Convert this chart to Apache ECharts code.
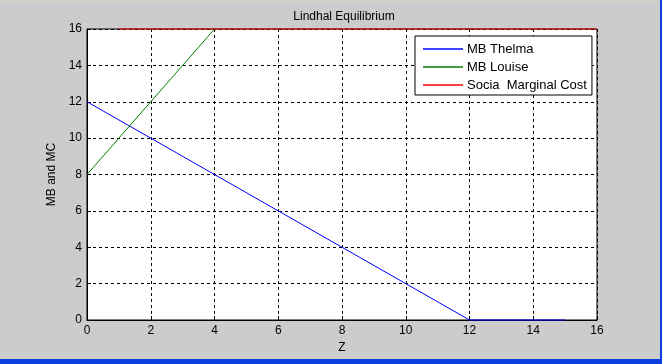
<!DOCTYPE html>
<html><head><meta charset="utf-8">
<script src="https://cdn.jsdelivr.net/npm/echarts@6/dist/echarts.min.js"></script>
<style>html,body{margin:0;padding:0;background:#cccccc;}#c{width:662px;height:364px;}</style>
</head><body><div id="c"></div>
<script>
const xTicks = [0,2,4,6,8,10,12,14,16];
const yTicks = [0,2,4,6,8,10,12,14,16];
const thelmaX = [0, 12, 15];
const thelmaY = [12, 0, 0];
const louiseX = [0, 4];
const louiseY = [8, 16];
const smcX = [1, 16];
const smcY = [16, 16];
const seriesNames = ['MB Thelma', 'MB Louise', 'Socia  Marginal Cost'];

function pairs(xs, ys){ return xs.map((x,i)=>[x, ys[i]]); }
const font = 'Liberation Sans, Arial, sans-serif';
const chart = echarts.init(document.getElementById('c'));
chart.setOption({
  backgroundColor: '#cccccc',
  animation: false,
  title: { text: 'Lindhal Equilibrium', left: 339, textAlign: 'center', top: 6,
    textStyle: { fontFamily: font, fontSize: 12, fontWeight: 'normal', color: '#000' } },
  grid: { left: 87, top: 29, width: 510, height: 291, show: true, backgroundColor: '#fff', borderColor: '#000', borderWidth: 1 },
  legend: {
    orient: 'vertical', left: 415, top: 36,
    width: 178,
    data: seriesNames,
    icon: 'rect', itemWidth: 40, itemHeight: 1.5, itemGap: 4,
    borderColor: '#000', borderWidth: 1, backgroundColor: '#fff',
    padding: [6, 5, 3, 8],
    textStyle: { fontFamily: font, fontSize: 13, lineHeight: 14, color: '#000', padding: [0,0,0,-1] }
  },
  xAxis: {
    type: 'value', min: 0, max: 16, interval: 2,
    name: 'Z', nameLocation: 'middle', nameGap: 20,
    nameTextStyle: { fontFamily: font, fontSize: 12, color: '#000' },
    axisLine: { show: true, lineStyle: { color: '#000' } },
    axisTick: { show: true, inside: true, length: 4, lineStyle: { color: '#000' } },
    axisLabel: { fontFamily: font, fontSize: 12, color: '#000', margin: 5, formatter: v => xTicks.includes(v) ? String(v) : '' },
    splitLine: { show: true, lineStyle: { color: '#000', type: [3, 3], width: 1 } }
  },
  yAxis: {
    type: 'value', min: 0, max: 16, interval: 2,
    name: 'MB and MC', nameLocation: 'middle', nameGap: 15,
    nameTextStyle: { fontFamily: font, fontSize: 12, color: '#000' },
    axisLine: { show: true, lineStyle: { color: '#000' } },
    axisTick: { show: true, inside: true, length: 4, lineStyle: { color: '#000' } },
    axisLabel: { fontFamily: font, fontSize: 12, color: '#000', margin: 5, formatter: v => yTicks.includes(v) ? String(v) : '' },
    splitLine: { show: true, lineStyle: { color: '#000', type: [3, 3], width: 1 } }
  },
  series: [
    { name: seriesNames[0], type: 'line', data: pairs(thelmaX, thelmaY), symbol: 'none', color: '#0000ff', lineStyle: { width: 1, color: '#0000ff' }, clip: false, z: 5 },
    { name: seriesNames[1], type: 'line', data: pairs(louiseX, louiseY), symbol: 'none', color: '#008000', lineStyle: { width: 1, color: '#008000' }, clip: false, z: 5 },
    { name: seriesNames[2], type: 'line', data: pairs(smcX, smcY), symbol: 'none', color: '#ff0000', lineStyle: { width: 1, color: '#ff0000' }, clip: false, z: 6 }
  ],
  graphic: [
    { type: 'rect', shape: { x: 0, y: 0, width: 662, height: 2 }, style: { fill: '#d4d0c8' }, silent: true },
    { type: 'rect', shape: { x: 0, y: 359, width: 662, height: 5 }, style: { fill: '#0a40e0' }, silent: true },
    { type: 'rect', shape: { x: 660, y: 0, width: 2, height: 364 }, style: { fill: '#0a40e0' }, silent: true }
  ]
});
</script></body></html>
